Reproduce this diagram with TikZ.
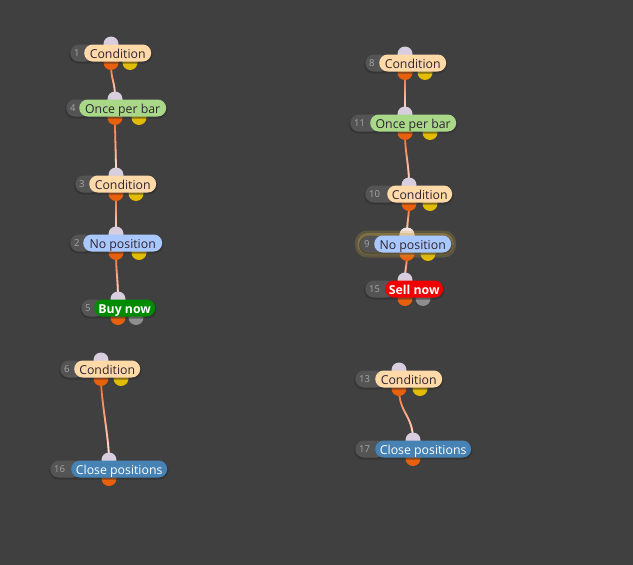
\documentclass[tikz,border=0pt]{standalone}
\usepackage{fontspec}
\setmainfont{Open Sans}
\usetikzlibrary{fadings}
\definecolor{bg}{HTML}{404040}
\definecolor{idgrey}{HTML}{545454}
\definecolor{idtxt}{HTML}{A8A8A8}
\definecolor{cond}{HTML}{FFD9A8}
\definecolor{once}{HTML}{A8D888}
\definecolor{nopos}{HTML}{A8C8FF}
\definecolor{buy}{HTML}{008A00}
\definecolor{sell}{HTML}{F00000}
\definecolor{closec}{HTML}{4682B4}
\definecolor{darktxt}{HTML}{2E2432}
\definecolor{inpc}{HTML}{D8CEE0}
\definecolor{inphi}{HTML}{F4E4E0}
\definecolor{orangec}{HTML}{E8600C}
\definecolor{yellowc}{HTML}{E2BC00}
\definecolor{greyc}{HTML}{8E8E8E}
\definecolor{edgeA}{HTML}{F06424}
\definecolor{edgeB}{HTML}{FFF0F0}
\definecolor{glowc}{HTML}{C8A848}
\definecolor{shadowc}{HTML}{2C2C2C}
\pgfdeclarelayer{background}
\pgfdeclarelayer{edges}
\pgfsetlayers{background,edges,main}
\tikzset{
  pill/.style={rounded corners=8.5pt, minimum height=17pt, inner sep=0pt, anchor=west,
    font=\fontsize{12.3}{12.3}\selectfont, text=darktxt, text height=10pt, text depth=0pt},
  idpill/.style={rounded corners=8.5pt, minimum height=17pt, inner sep=0pt, anchor=west, fill=idgrey},
  idnum/.style={anchor=west, inner sep=0pt, text=idtxt, font=\fontsize{9.5}{9.5}\selectfont,
    text height=7.5pt, text depth=0pt},
  port/.style={circle, inner sep=0pt, minimum size=15pt},
  inport/.style={port, fill=inpc},
  outport/.style={port, fill=orangec},
  yport/.style={port, fill=yellowc},
  gport/.style={port, fill=greyc},
  edgeline/.style={line width=1.8pt},
  condp/.style={fill=cond},
  oncep/.style={fill=once},
  nop/.style={fill=nopos},
  buyp/.style={fill=buy, text=white, font=\fontsize{12.3}{12.3}\selectfont\bfseries},
  sellp/.style={fill=sell, text=white, font=\fontsize{12.3}{12.3}\selectfont\bfseries},
  closep/.style={fill=closec, text=white},
}
% id, greyleft, colleft, colright, y, style, text
\newcommand\blk[7]{%
  \pgfmathsetlengthmacro\idw{(#3-#2+10)*1pt}%
  \pgfmathsetlengthmacro\colw{(#4-#3)*1pt}%
  \fill[shadowc, opacity=.5, rounded corners=9pt] (#2-1,#5-8) rectangle (#4+1.5,#5+10.5);
  \node[idpill, minimum width=\idw] (g#1) at (#2,#5) {};
  \node[idnum] (t#1) at ([xshift=4pt]g#1.west) {#1};
  \node[pill, #6, minimum width=\colw] (n#1) at (#3,#5) {#7};
}
% id, inx, y
\newcommand\ports[3]{%
  \node[inport] (i#1) at (#2,#3-9) {};
  \node[outport] (o#1) at (#2,#3+9.5) {};
}
% id, x, y, style
\newcommand\sport[4]{\node[#4] (s#1) at (#2,#3+9.5) {};}
% from, to, control distance
\newcommand\conn[3]{%
  \draw[edgeline, draw=edgeA] (o#1.center) .. controls +(0,#3) and +(0,-#3) .. (i#2.center);
  \draw[edgeline, draw=edgeB, path fading=north] (o#1.center) .. controls +(0,#3) and +(0,-#3) .. (i#2.center);
}
\begin{document}
\begin{tikzpicture}[x=1pt, y=-1pt]
\begin{pgfonlayer}{background}
  \fill[bg] (0,0) rectangle (633,565);
\end{pgfonlayer}
\useasboundingbox (0,0) rectangle (633,565);

% left column
\sport{1}{130}{53}{yport}\ports{1}{111}{53}\blk{1}{70}{84}{151}{53}{condp}{Condition}
\sport{4}{139}{108}{yport}\ports{4}{115}{108}\blk{4}{66}{79}{166}{108}{oncep}{Once per bar}
\sport{3}{136}{184}{yport}\ports{3}{116}{184}\blk{3}{75}{89}{156}{184}{condp}{Condition}
\sport{2}{139}{243}{yport}\ports{2}{116}{243}\blk{2}{70}{83}{162}{243}{nop}{No position}
\sport{5}{136}{308}{gport}\ports{5}{118}{308}\blk{5}{81}{94}{155}{308}{buyp}{Buy now}
\sport{6}{121}{369}{yport}\ports{6}{101}{369}\blk{6}{60}{74}{140}{369}{condp}{Condition}
\ports{16}{109}{469}\blk{16}{50}{71}{167}{469}{closep}{Close positions}

% right column
\sport{8}{425}{63}{yport}\ports{8}{405}{63}\blk{8}{365}{379}{446}{63}{condp}{Condition}
\sport{11}{430}{123}{yport}\ports{11}{405}{123}\blk{11}{350}{370}{456}{123}{oncep}{Once per bar}
\sport{10}{430}{194}{yport}\ports{10}{409}{194}\blk{10}{365}{387}{452}{194}{condp}{Condition}
\sport{9}{428}{244}{yport}\ports{9}{407}{244}
\node[port, fill=inphi] (h9) at (i9.center) {};
\fill[glowc, opacity=.22, rounded corners=12pt] (355,230.5) rectangle (456,257.5);
\fill[glowc, opacity=.35, rounded corners=10.5pt] (357.5,233) rectangle (453.5,255);
\blk{9}{360}{374}{451}{244}{nop}{No position}
\sport{15}{423}{289}{gport}\ports{15}{405}{289}\blk{15}{365}{385}{443}{289}{sellp}{Sell now}
\sport{13}{420}{379}{yport}\ports{13}{399}{379}\blk{13}{355}{375}{442}{379}{condp}{Condition}
\ports{17}{413}{449}\blk{17}{355}{375}{471}{449}{closep}{Close positions}

\begin{pgfonlayer}{edges}
  \conn{1}{4}{20}
  \conn{4}{3}{25}
  \conn{3}{2}{18}
  \conn{2}{5}{20}
  \conn{6}{16}{22}
  \conn{8}{11}{18}
  \conn{11}{10}{22}
  \conn{10}{9}{14}
  \conn{9}{15}{12}
  \conn{13}{17}{25}
\end{pgfonlayer}
\end{tikzpicture}
\end{document}
